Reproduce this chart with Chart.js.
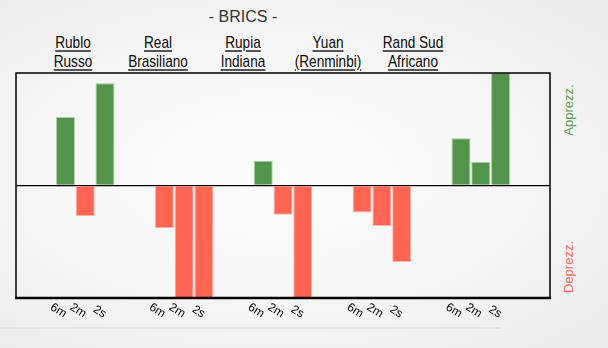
<!DOCTYPE html>
<html>
<head>
<meta charset="utf-8">
<script src="https://cdn.jsdelivr.net/npm/chart.js@4/dist/chart.umd.min.js"></script>
<style>
    html, body { margin: 0; padding: 0; }
    body {
        width: 608px; height: 348px; overflow: hidden; position: relative;
        background: radial-gradient(ellipse at 45% 50%, #fdfdfd 0%, #f7f7f7 45%, #ebebeb 100%);
        font-family: "Liberation Sans", Arial, sans-serif;
    }
    #wrap { position: absolute; left: 0; top: 0; width: 608px; height: 348px; }
    .title { position: absolute; top: 8px; left: 243px; transform: translateX(-50%); font-size: 16px; color: #333; white-space: nowrap; }
    .head {
        position: absolute; top: 33px; transform: translateX(-50%) scaleX(0.8); text-align: center;
        font-family: "Liberation Sans", sans-serif; font-size: 17px; line-height: 19px;
        color: #0a0a0a; text-decoration: underline; text-decoration-color: #555; text-decoration-thickness: 1.5px;
        text-underline-offset: 2px; white-space: nowrap;
    }
    .side { position: absolute; font-size: 13px; white-space: nowrap; transform: translate(-50%, -50%) rotate(-90deg); }
    .rule { position: absolute; left: 0; top: 327px; width: 501px; height: 2px; background: #e5e1dd; }
</style>
</head>
<body>
<div class="title">- BRICS -</div>
<div id="heads"></div>
<div class="side" style="left:568px; top:110px; color:#5a9e52;">Apprezz.</div>
<div class="side" style="left:568px; top:267px; color:#ff6a5a;">Deprezz.</div>
<div class="rule"></div>
<div id="wrap"><canvas id="bricsChart" width="608" height="348"></canvas></div>
<script>
// Currencies and periods
const currencies = [['Rublo', 'Russo'], ['Real', 'Brasiliano'], ['Rupia', 'Indiana'], ['Yuan', '(Renminbi)'], ['Rand Sud', 'Africano']];
const periods = ['6m', '2m', '2s'];

// Change per period (6m, 2m, 2s), scale -10..10
const rublo = [6.1, -2.7, 9.1];
const real = [-3.8, -10, -10];
const rupia = [2.2, -2.6, -10];
const yuan = [-2.4, -3.6, -6.8];
const rand = [4.2, 2.1, 10];
const series = [rublo, real, rupia, yuan, rand];

const headCenters = [73, 158, 243, 328, 413];

// header labels above the plot
const heads = document.getElementById('heads');
currencies.forEach(function (c, i) {
    const d = document.createElement('div');
    d.className = 'head';
    d.style.left = headCenters[i] + 'px';
    d.innerHTML = c[0] + '<br>' + c[1];
    heads.appendChild(d);
});

// build one slot per bar, with two empty slots between groups
const labels = [];
const values = [];
function gap() { labels.push('', ''); values.push(null, null); }
gap();
series.forEach(function (s, i) {
    s.forEach(function (v, j) { labels.push(periods[j]); values.push(v); });
    gap();
});

const framePlugin = {
    id: 'frame',
    afterDraw: function (chart) {
        const a = chart.chartArea;
        const ctx = chart.ctx;
        ctx.save();
        ctx.strokeStyle = '#000';
        ctx.lineWidth = 1.5;
        ctx.strokeRect(a.left, a.top, a.right - a.left, a.bottom - a.top);
        ctx.lineWidth = 2.5;
        ctx.beginPath();
        ctx.moveTo(a.left - 1, a.bottom);
        ctx.lineTo(a.right + 1, a.bottom);
        ctx.stroke();
        ctx.restore();
    }
};

new Chart(document.getElementById('bricsChart').getContext('2d'), {
    type: 'bar',
    data: {
        labels: labels,
        datasets: [{
            data: values,
            backgroundColor: function (c) { return c.raw >= 0 ? '#52944a' : '#ff6552'; },
            borderColor: function (c) { return c.raw >= 0 ? '#a9cda0' : '#ffb3a8'; },
            borderWidth: 1,
            barPercentage: 0.96,
            categoryPercentage: 1
        }]
    },
    options: {
        responsive: false,
        animation: false,
        layout: { padding: { left: 16, right: 58, top: 73, bottom: 0 } },
        plugins: { legend: { display: false }, tooltip: { enabled: false } },
        scales: {
            x: {
                grid: { display: false, drawTicks: false },
                border: { display: false },
                ticks: {
                    autoSkip: false,
                    minRotation: -32,
                    maxRotation: -32,
                    padding: 11,
                    color: '#000',
                    font: { family: 'Liberation Sans', size: 12 }
                },
                afterFit: function (s) { s.height = 50; }
            },
            y: {
                min: -10,
                max: 10,
                ticks: { display: false, stepSize: 10 },
                border: { display: false },
                grid: {
                    drawTicks: false,
                    lineWidth: 1.3,
                    color: function (c) { return c.tick && c.tick.value === 0 ? '#000' : 'rgba(0,0,0,0)'; }
                }
            }
        }
    },
    plugins: [framePlugin]
});
</script>
</body>
</html>
